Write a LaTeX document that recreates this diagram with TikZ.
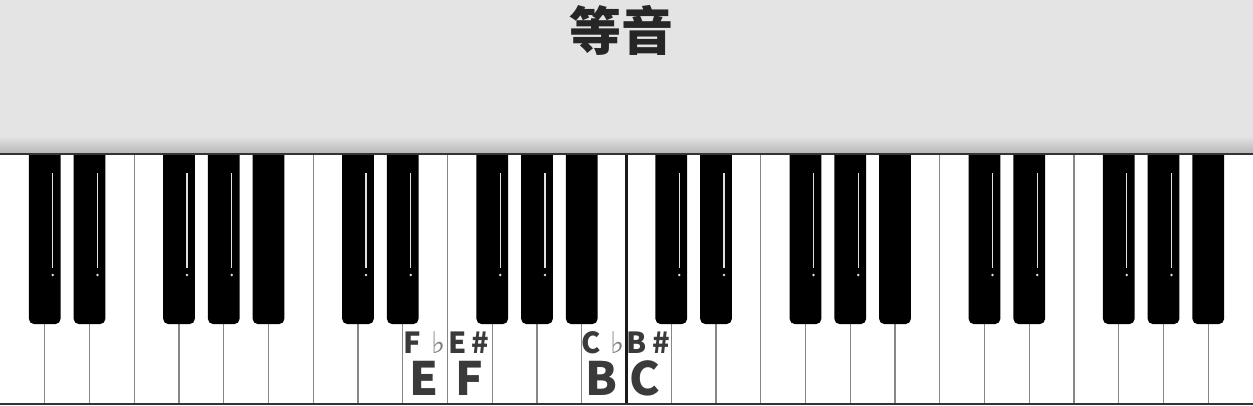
\documentclass[tikz,border=0pt]{standalone}
\usepackage{fontspec}
\setmainfont{Noto Sans CJK SC}
\newfontfamily\symfont{DejaVu Sans}
\definecolor{banner}{RGB}{228,228,228}
\definecolor{keyline}{RGB}{135,135,135}
\definecolor{ink}{RGB}{58,58,58}
\definecolor{pale}{RGB}{125,125,125}
\usepackage{tikz}
\newcommand{\flatsign}{\makebox[8pt]{\raisebox{0pt}[\height][0pt]{♭}}}
\tikzset{
  keygap/.style={draw=keyline, line width=1.4pt},
  blackkey/.style={fill=black},
  shine/.style={draw=black!12, line width=1.3pt},
  title/.style={font=\fontsize{52}{52}\selectfont\bfseries, text=black!85, inner sep=0pt},
  big/.style={font=\fontsize{46}{46}\selectfont\bfseries, text=ink, inner sep=0pt, anchor=base},
  small/.style={font=\fontsize{29}{29}\selectfont\bfseries, text=ink, inner sep=0pt, anchor=base},
  flat/.style={font=\symfont\fontsize{30}{30}\selectfont, text=pale, inner sep=0pt, anchor=base},
}

\begin{document}
\begin{tikzpicture}[x=1pt,y=-1pt]
        \useasboundingbox (0,0) rectangle (1253,405);
        % banner
        \fill[banner] (0,0) rectangle (1253,153);
        \shade[top color=banner, bottom color=black!28] (0,136) rectangle (1253,153);
        \node[title] (title) at (621,30) {等音};
        % white keys
        \fill[white] (0,153) rectangle (1253,405);
        \foreach \i in {1,...,27}
          \draw[keygap] (\i*44.75,153) -- (\i*44.75,405);
        \draw[black!90, line width=2.4pt] (14*44.75,153) -- (14*44.75,405);
        % black keys
        \foreach \o in {0,...,3}{
          \foreach \b in {1,2,4,5,6}{
            \pgfmathsetmacro{\kx}{(7*\o+\b)*44.75}
            \fill[blackkey] (\kx-15.8,154) [rounded corners=5pt] -- (\kx-15.8,324)
              -- (\kx+15.8,324) [sharp corners] -- (\kx+15.8,154) -- cycle;
          }
          \foreach \b in {1,2,4,5}{
            \pgfmathsetmacro{\kx}{(7*\o+\b)*44.75}
            \draw[shine] (\kx+8,173) -- (\kx+8,268);
            \fill[black!12] (\kx+8,275) circle (1.4pt);
          }
        }
        \draw[black!80, line width=2pt] (0,154) -- (1253,154);
        \draw[black!80, line width=2pt] (0,404) -- (1253,404);
        % labels
        \node[big] (noteE) at (424,395) {E};
        \node[big] (noteF) at (469,395) {F};
        \node[big] (noteB) at (601,395) {B};
        \node[big] (noteC) at (645,395) {C};
        \node[small] (fflat) at (412,353) {F};
        \node[flat] (fflatsign) at (439,353) {\flatsign};
        \node[small] (esharp) at (458,353) {E};
        \node[small] (esharpsign) at (480,353) {\#};
        \node[small] (cflat) at (591,353) {C};
        \node[flat] (cflatsign) at (618,353) {\flatsign};
        \node[small] (bsharp) at (637,353) {B};
        \node[small] (bsharpsign) at (661,353) {\#};
      \end{tikzpicture}
\end{document}
